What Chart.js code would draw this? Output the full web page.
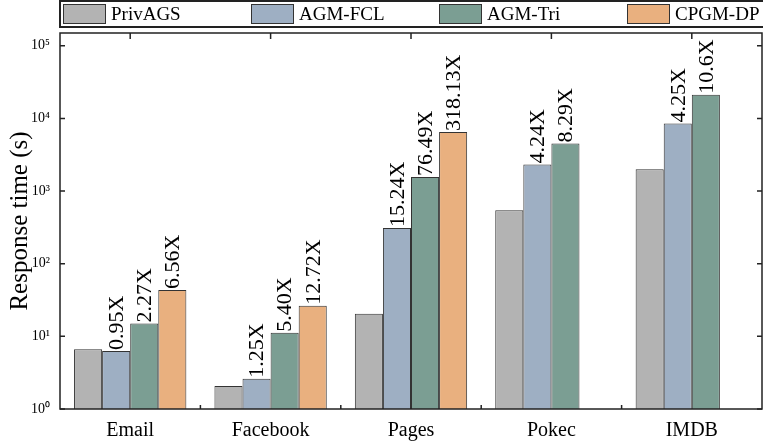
<!DOCTYPE html>
<html>
<head>
<meta charset="utf-8">
<script src="https://cdn.jsdelivr.net/npm/chart.js@4/dist/chart.umd.min.js"></script>
<style>
  body { margin: 0; background: #fff; }
  #wrap { position: relative; width: 763px; height: 442px; overflow: hidden; }
  #legend {
    position: absolute; left: 59px; top: 0; width: 720px; height: 28px;
    box-sizing: border-box; border: 2px solid #222; display: flex; padding-left: 2px;
    font-family: "Liberation Serif", "Times New Roman", serif; font-size: 19px; color: #000;
  }
  .item { width: 188px; display: flex; align-items: center; flex: none; }
  .swatch { width: 43px; height: 20px; box-sizing: border-box; border: 1px solid #333; margin-right: 5px; }
</style>
</head>
<body>
<div id="wrap">
  <canvas id="chart" width="763" height="442"></canvas>
  <div id="legend"></div>
</div>
<script>
const categories = ['Email', 'Facebook', 'Pages', 'Pokec', 'IMDB'];
const seriesNames = ['PrivAGS', 'AGM-FCL', 'AGM-Tri', 'CPGM-DP'];
const seriesColors = ['#b3b3b3', '#9eafc3', '#7b9e93', '#e9b07f'];

const privags = [6.64, 2.08, 20.4, 546, 2000];
const agmFcl = [6.31, 2.60, 311, 2315, 8500];
const agmTri = [15.07, 11.23, 1560, 4526, 21200];
const cpgmDp = [43.56, 26.46, 6490, null, null];

// speedup labels above bars (PrivAGS has none)
const fclLabels = ['0.95X', '1.25X', '15.24X', '4.24X', '4.25X'];
const triLabels = ['2.27X', '5.40X', '76.49X', '8.29X', '10.6X'];
const dpLabels = ['6.56X', '12.72X', '318.13X', null, null];

const yTicks = [1, 10, 100, 1000, 10000, 100000];
const FONT = '"Liberation Serif", "Times New Roman", serif';
const sup = ['⁰', '¹', '²', '³', '⁴', '⁵', '⁶'];

// html legend, fixed columns like the original
const legendEl = document.getElementById('legend');
seriesNames.forEach((name, i) => {
    const it = document.createElement('div');
    it.className = 'item';
    it.innerHTML = `<span class="swatch" style="background:${seriesColors[i]}"></span><span>${name}</span>`;
    legendEl.appendChild(it);
});

const decorPlugin = {
    id: 'decor',
    afterDatasetsDraw(chart) {
        const { ctx, chartArea: a, scales: { x, y } } = chart;
        ctx.save();
        ctx.strokeStyle = '#222';
        ctx.lineWidth = 1.5;
        ctx.strokeRect(a.left, a.top, a.right - a.left, a.bottom - a.top);

        // inward ticks
        ctx.beginPath();
        y.ticks.forEach(t => {
            const py = y.getPixelForValue(t.value);
            ctx.moveTo(a.left, py); ctx.lineTo(a.left + 5, py);
            ctx.moveTo(a.right, py); ctx.lineTo(a.right - 5, py);
        });
        categories.forEach((c, i) => {
            const px = x.getPixelForValue(i);
            ctx.moveTo(px, a.top); ctx.lineTo(px, a.top + 6);
            if (i > 0) {
                const bx = (x.getPixelForValue(i - 1) + px) / 2;
                ctx.moveTo(bx, a.bottom); ctx.lineTo(bx, a.bottom - 4);
            }
        });
        ctx.stroke();

        // rotated speedup labels
        ctx.font = `22px ${FONT}`;
        ctx.fillStyle = '#000';
        ctx.textAlign = 'left';
        ctx.textBaseline = 'middle';
        [fclLabels, triLabels, dpLabels].forEach((labels, k) => {
            const meta = chart.getDatasetMeta(k + 1);
            labels.forEach((txt, i) => {
                if (!txt) return;
                const bar = meta.data[i];
                ctx.save();
                ctx.translate(bar.x + 1, bar.y - 1);
                ctx.rotate(-Math.PI / 2);
                ctx.fillText(txt, 0, 0);
                ctx.restore();
            });
        });
        ctx.restore();
    }
};

new Chart(document.getElementById('chart'), {
    type: 'bar',
    data: {
        labels: categories,
        datasets: [privags, agmFcl, agmTri, cpgmDp].map((d, i) => ({
            label: seriesNames[i],
            data: d,
            backgroundColor: seriesColors[i],
            borderColor: '#333',
            borderWidth: 1,
            categoryPercentage: 0.8,
            barPercentage: 1.0
        }))
    },
    options: {
        responsive: false,
        animation: false,
        layout: { padding: { top: 33, right: 1, bottom: 0, left: 0 } },
        plugins: { legend: { display: false }, tooltip: { enabled: false } },
        scales: {
            x: {
                grid: { display: false },
                border: { display: false },
                ticks: { color: '#000', font: { family: FONT, size: 20 }, padding: 2, maxRotation: 0 },
                afterFit(s) { s.height = 33; }
            },
            y: {
                type: 'logarithmic',
                min: 1,
                max: 150000,
                afterBuildTicks(s) { s.ticks = yTicks.map(v => ({ value: v })); },
                grid: { display: false, drawTicks: false },
                border: { display: false },
                ticks: {
                    color: '#000',
                    font: { family: FONT, size: 14 },
                    padding: 10,
                    callback: v => '10' + sup[Math.round(Math.log10(v))]
                },
                title: {
                    display: true,
                    text: 'Response time (s)',
                    color: '#000',
                    font: { family: FONT, size: 25 },
                    padding: { top: 5, bottom: 0 }
                },
                afterFit(s) { s.width = 60; }
            }
        }
    },
    plugins: [decorPlugin]
});
</script>
</body>
</html>
